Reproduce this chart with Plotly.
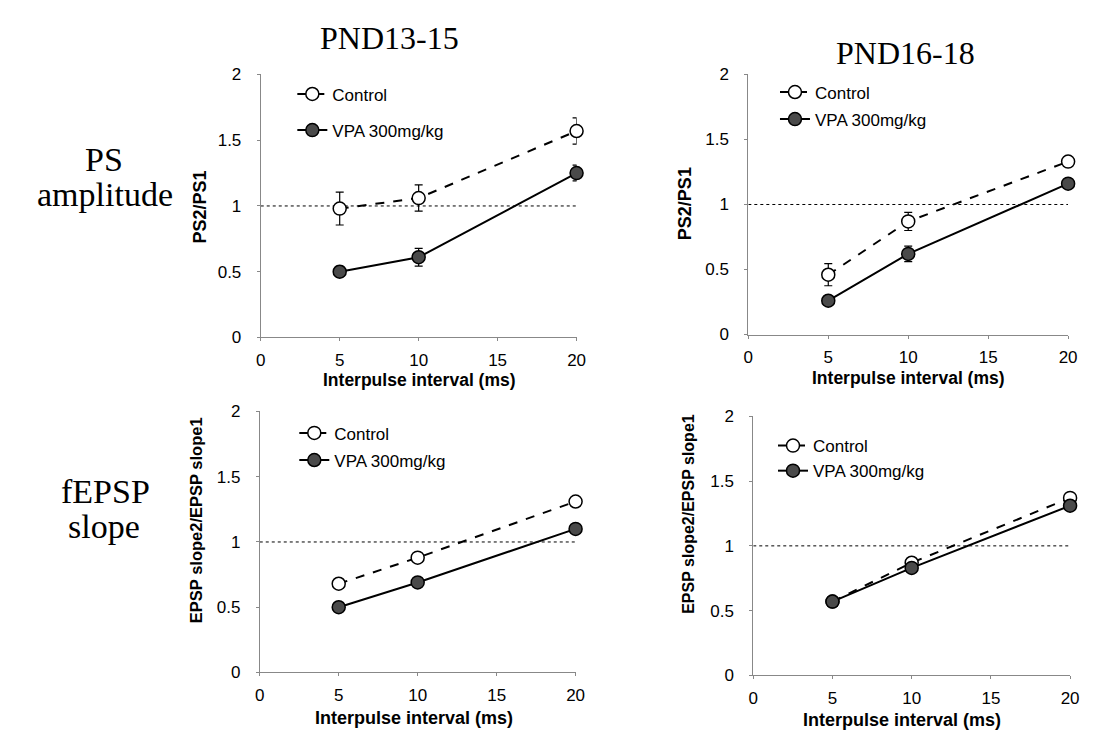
import plotly.graph_objects as go

intervals = [5, 10, 20]
ps_1315_ctrl = [0.98, 1.06, 1.57]
ps_1315_ctrl_err = [0.125, 0.10, 0.10]
ps_1315_vpa = [0.50, 0.61, 1.25]
ps_1315_vpa_err = [0.04, 0.067, 0.06]
ps_1618_ctrl = [0.46, 0.87, 1.33]
ps_1618_ctrl_err = [0.085, 0.07, 0.03]
ps_1618_vpa = [0.26, 0.62, 1.16]
ps_1618_vpa_err = [0.03, 0.06, 0.03]
ep_1315_ctrl = [0.68, 0.88, 1.31]
ep_1315_ctrl_err = [0.02, 0.02, 0.03]
ep_1315_vpa = [0.50, 0.69, 1.10]
ep_1315_vpa_err = [0.02, 0.02, 0.03]
ep_1618_ctrl = [0.57, 0.87, 1.37]
ep_1618_ctrl_err = [0.02, 0.02, 0.02]
ep_1618_vpa = [0.57, 0.83, 1.31]
ep_1618_vpa_err = [0.02, 0.02, 0.02]

x_ticks = [0, 5, 10, 15, 20]
y_ticks = [0, 0.5, 1, 1.5, 2]
col_titles = ["PND13-15", "PND16-18"]
row_titles = [["PS", "amplitude"], ["fEPSP", "slope"]]
series_names = ["Control", "VPA 300mg/kg"]
x_title = "Interpulse interval (ms)"
y_titles = ["PS2/PS1", "EPSP slope2/EPSP slope1"]

# the page's default body margin puts the figure at (8, 8); size it to fit the window
OFF = 8
W, H = 1094 - 2 * OFF, 746 - 2 * OFF

def px_x(v):
    return (v - OFF) / W

def px_y(v):
    return 1 - (v - OFF) / H

panels = [
    dict(x=(259, 579), y=(337, 67), data=(ps_1315_ctrl, ps_1315_ctrl_err, ps_1315_vpa, ps_1315_vpa_err),
         leg=(333, 87), gap=11, xt=(420, 381, 17.5), yt=(197, 203, 18)),
    dict(x=(753, 1077), y=(334, 67), data=(ps_1618_ctrl, ps_1618_ctrl_err, ps_1618_vpa, ps_1618_vpa_err),
         leg=(822, 85), gap=2, xt=(915, 379, 17.5), yt=(689, 200, 18)),
    dict(x=(258, 578), y=(681, 413), data=(ep_1315_ctrl, ep_1315_ctrl_err, ep_1315_vpa, ep_1315_vpa_err),
         leg=(335, 435), gap=2, xt=(414, 728, 18), yt=(193, 525, 16.5)),
    dict(x=(758, 1079), y=(684, 418), data=(ep_1618_ctrl, ep_1618_ctrl_err, ep_1618_vpa, ep_1618_vpa_err),
         leg=(820, 448), gap=0, xt=(909, 730, 18), yt=(693, 518, 16)),
]

fig = go.Figure()
sans = "Liberation Sans, Arial"
serif = "Liberation Serif, Times New Roman"
axis_font = dict(family=sans, size=17, color="black")

def ann(text, x, y, size, family, angle=0):
    fig.add_annotation(text=text, xref="paper", yref="paper", x=px_x(x), y=px_y(y),
                       xanchor="center", yanchor="middle", showarrow=False, textangle=angle,
                       font=dict(family=family, size=size, color="black"))

for i, p in enumerate(panels):
    n = "" if i == 0 else str(i + 1)
    xa, ya = "x" + n, "y" + n
    leg = "legend" if i == 0 else "legend" + str(i + 1)
    c, ce, v, ve = p["data"]
    fig.add_trace(go.Scatter(
        x=intervals, y=c, name=series_names[0], mode="lines+markers",
        xaxis=xa, yaxis=ya, legend=leg, legendgroup="c" + n,
        line=dict(color="black", width=2, dash="dash"),
        marker=dict(symbol="circle", size=13, color="white", line=dict(color="black", width=1.5)),
        error_y=dict(type="data", array=ce, color="black", thickness=1.2, width=4),
        cliponaxis=False,
    ))
    fig.add_trace(go.Scatter(
        x=intervals, y=v, name=series_names[1], mode="lines+markers",
        xaxis=xa, yaxis=ya, legend=leg, legendgroup="v" + n,
        line=dict(color="black", width=2),
        marker=dict(symbol="circle", size=13, color="#4a4a4a", line=dict(color="black", width=1.5)),
        error_y=dict(type="data", array=ve, color="black", thickness=1.2, width=4),
        cliponaxis=False,
    ))
    fig.add_shape(type="line", xref=xa, yref=ya, x0=0, x1=20, y0=1, y1=1,
                  line=dict(color="black", width=1, dash="dot"), layer="below")
    fig.layout["xaxis" + n] = dict(
        domain=[px_x(p["x"][0]), px_x(p["x"][1])], anchor=ya, range=[0, 20],
        tickvals=x_ticks, ticks="outside", ticklen=3, tickcolor="#888", ticklabelstandoff=4,
        showline=True, linecolor="#888", linewidth=1, showgrid=False, zeroline=False,
        tickfont=axis_font,
    )
    fig.layout["yaxis" + n] = dict(
        domain=[px_y(p["y"][0]), px_y(p["y"][1])], anchor=xa, range=[0, 2],
        tickvals=y_ticks, ticks="outside", ticklen=3, tickcolor="#888", ticklabelstandoff=12,
        showline=True, linecolor="#888", linewidth=1, showgrid=False, zeroline=False,
        tickfont=axis_font,
    )
    fig.layout[leg] = dict(
        x=px_x(p["leg"][0] - 42), y=px_y(p["leg"][1] - 18), xanchor="left", yanchor="top",
        bgcolor="rgba(0,0,0,0)", font=dict(family=sans, size=17, color="black"),
        tracegroupgap=p["gap"], traceorder="grouped", itemwidth=30,
    )
    ann("<b>" + x_title + "</b>", p["xt"][0], p["xt"][1], p["xt"][2], sans)
    ann("<b>" + y_titles[i // 2] + "</b>", p["yt"][0], p["yt"][1], p["yt"][2], sans, angle=-90)

ann(col_titles[0], 389, 30, 32, serif)
ann(col_titles[1], 912, 45, 32, serif)
ann(row_titles[0][0], 100, 154, 34, serif)
ann(row_titles[0][1], 101, 190, 34, serif)
ann(row_titles[1][0], 102, 495, 34, serif)
ann(row_titles[1][1], 100, 531, 34, serif)

fig.update_layout(width=W, height=H, margin=dict(l=0, r=0, t=0, b=0),
                  paper_bgcolor="white", plot_bgcolor="white", showlegend=True)
fig.write_html("out.html")
